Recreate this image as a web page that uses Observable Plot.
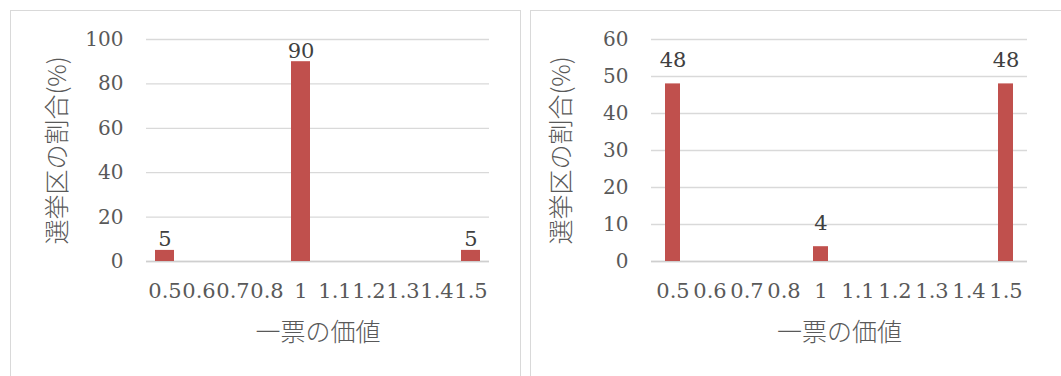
<!DOCTYPE html>
<html><head><meta charset="utf-8">
<script src="https://cdn.jsdelivr.net/npm/d3@7"></script>
<script src="https://cdn.jsdelivr.net/npm/@observablehq/plot@0.6"></script>
<style>
body{margin:0;background:#fff;width:1061px;height:376px;overflow:hidden;position:relative}
.panel{position:absolute;top:10px;border:1px solid #d9d9d9;box-sizing:border-box;background:#fff}
.panel svg{display:block;font-family:"DejaVu Serif","Liberation Serif",serif !important}
.panel svg text{font-family:"DejaVu Serif","Liberation Serif",serif}
g[aria-label="x-axis tick label"] text{font-size:21px}
g[aria-label="x-axis label"] text, g[aria-label="y-axis label"] text{font-family:"Noto Sans CJK JP",sans-serif !important;font-size:25px;font-weight:300;fill:#595959}
</style></head><body>
<div id="p1" class="panel" style="left:10px;width:511px;height:380px"></div>
<div id="p2" class="panel" style="left:530px;width:545px;height:380px"></div>
<script>
const categories = ["0.5","0.6","0.7","0.8","1","1.1","1.2","1.3","1.4","1.5"];
const leftValues = [5,0,0,0,90,0,0,0,0,5];
const rightValues = [48,0,0,0,4,0,0,0,0,48];
const leftTicks = [0,20,40,60,80,100];
const rightTicks = [0,10,20,30,40,50,60];
const xTitle = "一票の価値";
const yTitle = "選挙区の割合(%)";

function chart(values, ticks, opts) {
  const data = categories.map((c, i) => ({cat: c, value: values[i]}));
  return Plot.plot({
    width: opts.width, height: 370,
    marginLeft: opts.marginLeft, marginRight: opts.marginRight, marginTop: 28, marginBottom: 120,
    style: {fontSize: "20px", color: "#595959", background: "transparent"},
    x: {type: "band", domain: categories, paddingInner: opts.padding, paddingOuter: opts.padding / 2, label: xTitle, labelAnchor: "center", labelArrow: "none", labelOffset: 79, tickSize: 0, tickPadding: 22},
    y: {domain: [0, ticks[ticks.length - 1]], ticks: ticks, label: yTitle, labelAnchor: "center", labelArrow: "none", labelOffset: opts.yLabelOffset, tickSize: 0, tickPadding: 23},
    marks: [
      Plot.gridY(ticks, {stroke: "#d9d9d9", strokeOpacity: 1, strokeWidth: 1.3}),
      Plot.ruleY([0], {stroke: "#cfcfcf", strokeWidth: 1.3}),
      Plot.barY(data, {x: "cat", y: "value", fill: "#c0504d"}),
      Plot.text(data.filter(d => d.value > 0), {x: "cat", y: "value", text: d => String(d.value), lineAnchor: "bottom", dy: opts.labelDy, fill: "#404040", fontSize: 21})
    ]
  });
}

document.getElementById("p1").append(chart(leftValues, leftTicks, {width: 509, marginLeft: 135, marginRight: 31, padding: 0.45, yLabelOffset: 98, labelDy: -4}));
document.getElementById("p2").append(chart(rightValues, rightTicks, {width: 543, marginLeft: 120, marginRight: 47, padding: 0.6, yLabelOffset: 99, labelDy: -17}));
</script>
</body></html>
